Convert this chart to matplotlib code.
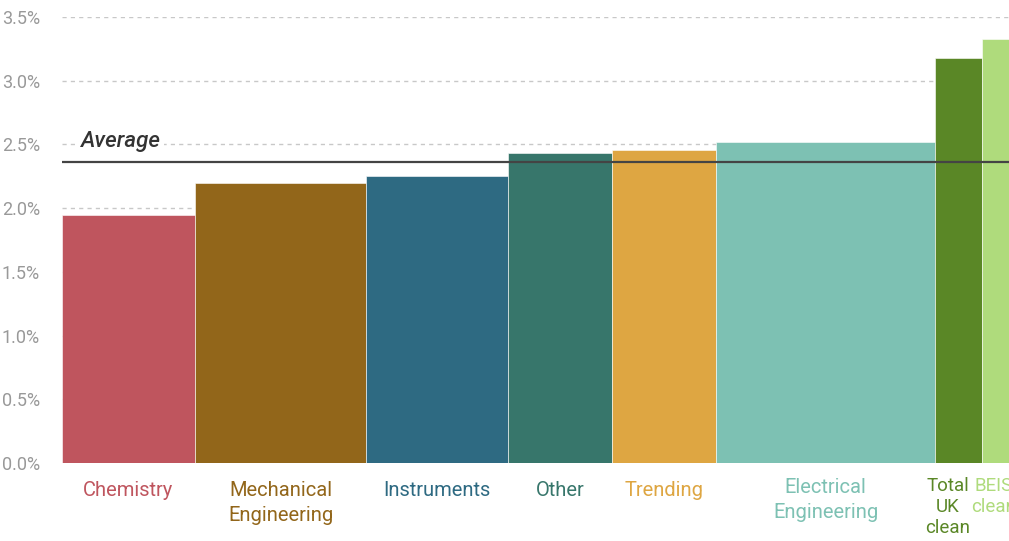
import matplotlib
matplotlib.use('Agg')
import matplotlib.pyplot as plt
import numpy as np

# categories, bar widths (share) and growth values (%)
categories = ['Chemistry', 'Mechanical\nEngineering', 'Instruments', 'Other', 'Trending',
              'Electrical\nEngineering', 'Total\nUK\nclean', 'BEIS\nclean']
widths = [13.3, 17.1, 14.2, 10.4, 10.4, 21.9, 4.7, 4.7]
values = [1.95, 2.20, 2.25, 2.43, 2.46, 2.52, 3.18, 3.33]
colors = ['#bf555e', '#92661a', '#2e6a82', '#37766b', '#dea642',
          '#7dc1b3', '#5a8726', '#afdb7c']
average = 2.36
yticks = [0, 0.5, 1.0, 1.5, 2.0, 2.5, 3.0, 3.5]

plt.rcParams['font.family'] = ['Roboto', 'DejaVu Sans']

fig = plt.figure(figsize=(10.09, 5.41), dpi=100)
ax = fig.add_axes([62 / 1009, 78 / 541, 1 - 62 / 1009, (463 - 17) / 541])

lefts = np.concatenate([[0], np.cumsum(widths)[:-1]])
ax.bar(lefts, values, width=widths, align='edge', color=colors,
       edgecolor='white', linewidth=0.4, zorder=2)

# average line and its label
ax.axhline(average, color='#444444', linewidth=1.6, zorder=3)
ax.text(1.8, 2.52, 'Average', fontsize=16, style='italic', weight='medium',
        color='#333333', va='center', ha='left', zorder=4,
        bbox=dict(facecolor='white', edgecolor='none', pad=3))

ax.set_xlim(0, (1009 - 62) / 10)
ax.set_ylim(0, 3.5)
ax.set_yticks(yticks)
ax.set_yticklabels([f'{t:.1f}%' for t in yticks], color='#999999', fontsize=13)
ax.tick_params(axis='y', length=0, pad=16)
ax.set_xticks([])
ax.grid(axis='y', linestyle=(0, (3, 3)), color='#c8c8c8', linewidth=1, zorder=0)
for s in ax.spines.values():
    s.set_visible(False)

# category labels below the bars
for left, w, cat, col in zip(lefts, widths, categories, colors):
    x = left + w / 2
    fs = 14.5
    if cat.startswith('Total'):
        x, y, ls, fs = left + 1.3, -0.11, 1.2, 13.5
    elif cat.startswith('BEIS'):
        x, y, ls, fs = left + 1.2, -0.11, 1.2, 13.5
    elif cat.startswith('Electrical'):
        y, ls = -0.12, 1.4
    else:
        y, ls = -0.14, 1.4
    ax.text(x, y, cat, ha='center', va='top', color=col, fontsize=fs,
            linespacing=ls, clip_on=False)

plt.savefig('out.png', dpi=100)
